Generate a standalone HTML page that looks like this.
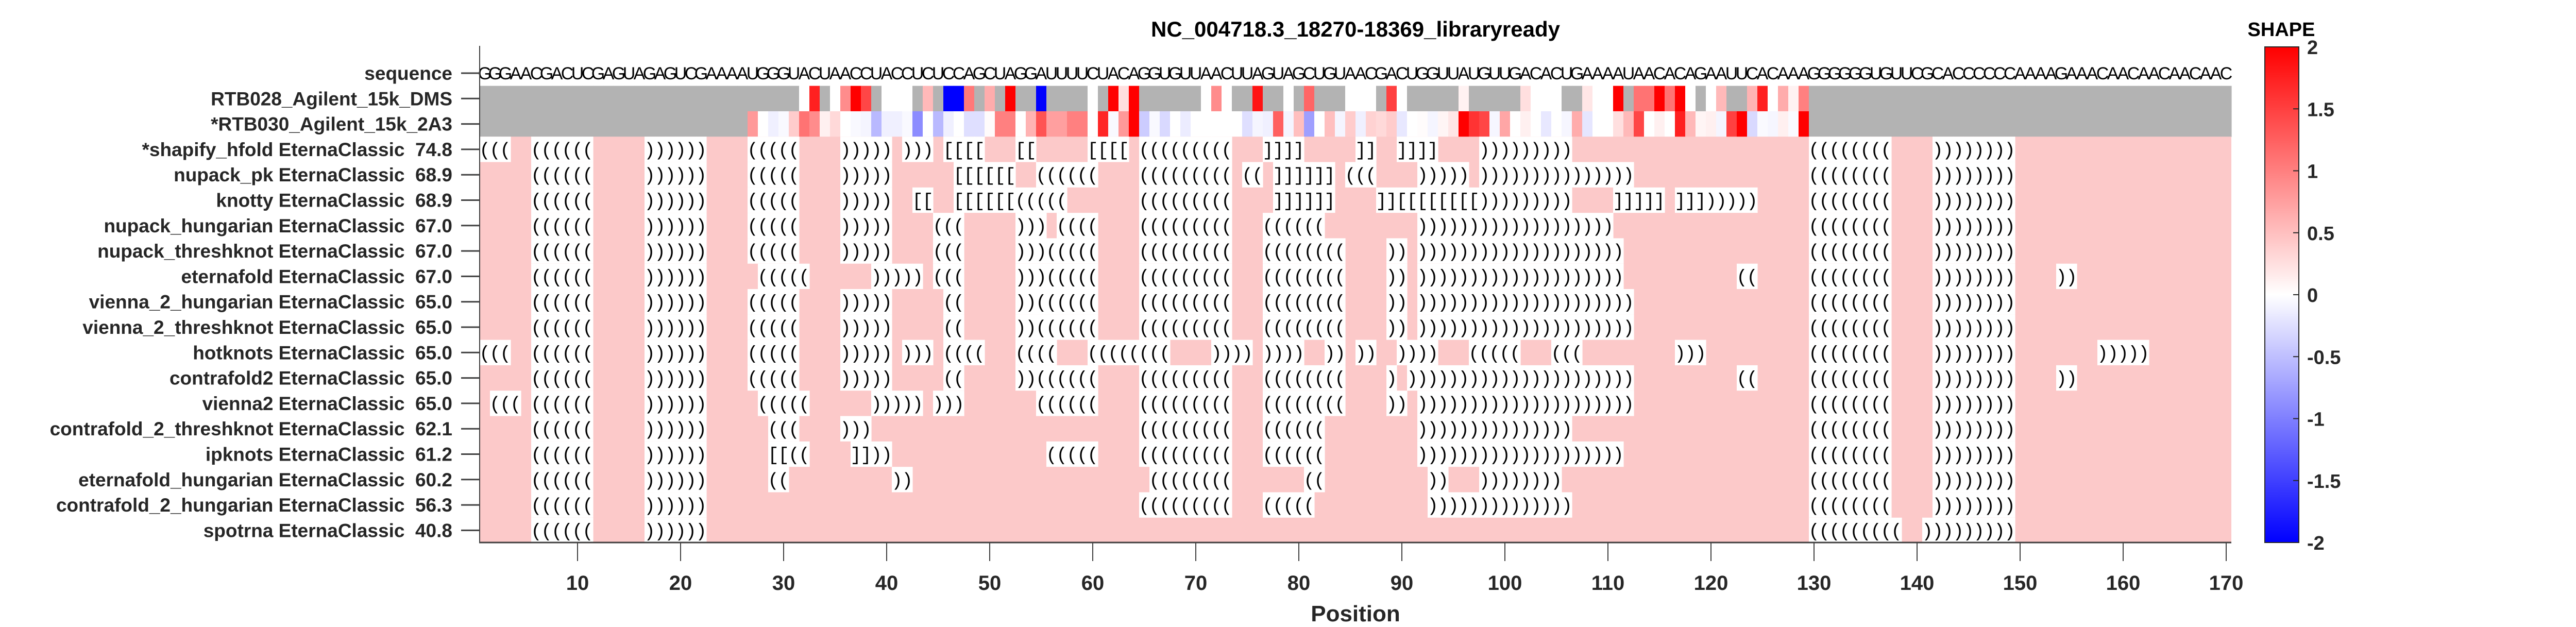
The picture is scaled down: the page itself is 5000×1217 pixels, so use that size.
<!DOCTYPE html>
<html><head><meta charset="utf-8"><style>
html,body{margin:0;padding:0;background:#fff;}
svg{display:block;font-family:"Liberation Sans",Arial,sans-serif;}
</style></head><body>
<svg id="chart" width="5000" height="1217" viewBox="0 0 5000 1217" xmlns="http://www.w3.org/2000/svg">
<defs>
<linearGradient id="cbgrad" x1="0" y1="1" x2="0" y2="0">
<stop offset="0" stop-color="#0000ff"/><stop offset="0.5" stop-color="#ffffff"/><stop offset="1" stop-color="#ff0000"/>
</linearGradient>
</defs>
<text x="2631" y="71" text-anchor="middle" font-size="42" font-weight="bold" fill="#000">NC_004718.3_18270-18369_libraryready</text>
<g id="cells"></g>
<g id="ylabels"></g>
<g id="xaxis"></g>
<text x="2631" y="1206" text-anchor="middle" font-size="44" font-weight="bold" fill="#262626">Position</text>
<g id="colorbar">
<text x="4428" y="70" text-anchor="middle" font-size="38" font-weight="bold" fill="#000">SHAPE</text>
<rect x="4396" y="91" width="66" height="962" fill="url(#cbgrad)" stroke="#262626" stroke-width="2"/>
</g>
</svg>
<script>
const N = null;
const sequence = "GGGAACGACUCGAGUAGAGUCGAAAAUGGGUACUAACCUACCU" + "CUCCAGCUAGGAUUUUCUACAGGUGUUAACUUAGUAGCUGUAACGACUGGUUAUGUUGACACUGAAAAUAACACAGAAUUCACAA" + "A" + "GGGGGGUGUUCGCACCCCCC" + "AAAAGAAACAACAACAACAAC";
const dmsValues = [N,N,N,N,N,N,N,N,N,N,N,N,N,N,N,N,N,N,N,N,N,N,N,N,N,N,N,N,N,N,N,
0,1.75,N,0,0.9,2,1.45,N,0,0,0,N,
0.55,N,-2,-2,1.05,N,0.65,N,2,N,N,-2,
N,N,N,N,0,N,2,0.25,2,N,N,N,
N,N,N,0,0.9,0,N,N,1.85,N,N,0,
N,1.2,N,N,N,0,0,0,N,1.5,0,N,
N,N,N,N,0.1,N,N,N,N,N,0.25,0,
0,0,N,N,0.2,0,0,2,N,1.1,1.1,2,
1.1,2,0,N,0,0.55,N,N,0.6,1.75,0,0.65,0.1,1.0,
N,N,N,N,N,N,N,N,N,N,N,N,N,N,N,N,N,N,N,N,N,N,N,N,N,N,N,N,N,N,N,N,N,N,N,N,N,N,N,N,N];
const a2a3Values = [N,N,N,N,N,N,N,N,N,N,N,N,N,N,N,N,N,N,N,N,N,N,N,N,N,N,
0.8,0,-0.12,-0.05,0.4,1.1,0.9,0.12,0.3,0,-0.05,-0.08,
-0.55,-0.12,-0.12,-0.05,-0.9,0,-0.55,-0.12,0,-0.25,-0.25,0.03,
1,1,0,0.6,1.35,0.75,0.75,1,1,0,1.7,-0.05,
0.8,2,-0.4,-0.05,-0.3,0,-0.15,0,0,0,0,0,
-0.25,-0.08,-0.12,1.25,-0.08,0.5,-0.75,0,0.5,-0.08,0.4,-0.12,
0.35,0.3,0.4,-0.18,0,0.02,-0.08,0.08,0.2,2,1.6,1.45,
-0.07,0.7,0,0.12,0,-0.18,0,-0.07,0.65,-0.2,0,0,
0.25,0.55,1.45,0,0.12,0,1.75,0.55,0.08,0.12,-0.08,1.5,
2,-0.3,-0.04,-0.07,0.12,-0.04,2,
N,N,N,N,N,N,N,N,N,N,N,N,N,N,N,N,N,N,N,N,N,N,N,N,N,N,N,N,N,N,N,N,N,N,N,N,N,N,N,N,N];
const rowLabels = ["sequence","RTB028_Agilent_15k_DMS","*RTB030_Agilent_15k_2A3",
"*shapify_hfold EternaClassic  74.8","nupack_pk EternaClassic  68.9","knotty EternaClassic  68.9",
"nupack_hungarian EternaClassic  67.0","nupack_threshknot EternaClassic  67.0","eternafold EternaClassic  67.0",
"vienna_2_hungarian EternaClassic  65.0","vienna_2_threshknot EternaClassic  65.0","hotknots EternaClassic  65.0",
"contrafold2 EternaClassic  65.0","vienna2 EternaClassic  65.0","contrafold_2_threshknot EternaClassic  62.1",
"ipknots EternaClassic  61.2","eternafold_hungarian EternaClassic  60.2","contrafold_2_hungarian EternaClassic  56.3",
"spotrna EternaClassic  40.8"];
const structSegments = [
[[1,'(',3],[6,'(',6],[17,')',6],[27,'(',5],[36,')',5],[42,')',3],[46,'[',4],[53,'[',2],[60,'[',4],[65,'(',9],[77,']',4],[86,']',2],[90,']',4],[98,')',9],[130,'(',8],[142,')',8]],
[[6,'(',6],[17,')',6],[27,'(',5],[36,')',5],[47,'[',6],[55,'(',6],[65,'(',9],[75,'(',2],[78,']',6],[85,'(',3],[92,')',5],[98,')',15],[130,'(',8],[142,')',8]],
[[6,'(',6],[17,')',6],[27,'(',5],[36,')',5],[43,'[',2],[47,'[',6],[53,'(',5],[65,'(',9],[78,']',6],[88,']',2],[90,'[',8],[98,')',9],[111,']',5],[117,']',3],[120,')',5],[130,'(',8],[142,')',8]],
[[6,'(',6],[17,')',6],[27,'(',5],[36,')',5],[45,'(',3],[53,')',3],[57,'(',4],[65,'(',9],[77,'(',6],[92,')',19],[130,'(',8],[142,')',8]],
[[6,'(',6],[17,')',6],[27,'(',5],[36,')',5],[45,'(',3],[53,')',3],[56,'(',5],[65,'(',9],[77,'(',8],[89,')',2],[92,')',20],[130,'(',8],[142,')',8]],
[[6,'(',6],[17,')',6],[28,'(',5],[39,')',5],[45,'(',3],[53,')',3],[56,'(',5],[65,'(',9],[77,'(',8],[89,')',2],[92,')',20],[123,'(',2],[130,'(',8],[142,')',8],[154,')',2]],
[[6,'(',6],[17,')',6],[27,'(',5],[36,')',5],[46,'(',2],[53,')',2],[55,'(',6],[65,'(',9],[77,'(',8],[89,')',2],[92,')',21],[130,'(',8],[142,')',8]],
[[6,'(',6],[17,')',6],[27,'(',5],[36,')',5],[46,'(',2],[53,')',2],[55,'(',6],[65,'(',9],[77,'(',8],[89,')',2],[92,')',21],[130,'(',8],[142,')',8]],
[[1,'(',3],[6,'(',6],[17,')',6],[27,'(',5],[36,')',5],[42,')',3],[46,'(',4],[53,'(',4],[60,'(',8],[72,')',4],[77,')',4],[83,')',2],[86,')',2],[90,')',4],[97,'(',5],[105,'(',3],[117,')',3],[130,'(',8],[142,')',8],[158,')',5]],
[[6,'(',6],[17,')',6],[27,'(',5],[36,')',5],[46,'(',2],[53,')',2],[55,'(',6],[65,'(',9],[77,'(',8],[89,')',1],[91,')',22],[123,'(',2],[130,'(',8],[142,')',8],[154,')',2]],
[[2,'(',3],[6,'(',6],[17,')',6],[28,'(',5],[39,')',5],[45,')',3],[55,'(',6],[65,'(',9],[77,'(',8],[89,')',2],[92,')',21],[130,'(',8],[142,')',8]],
[[6,'(',6],[17,')',6],[29,'(',3],[36,')',3],[65,'(',9],[77,'(',6],[92,')',15],[130,'(',8],[142,')',8]],
[[6,'(',6],[17,')',6],[29,'[',2],[31,'(',2],[37,']',2],[39,')',2],[56,'(',5],[65,'(',9],[77,'(',6],[92,')',20],[130,'(',8],[142,')',8]],
[[6,'(',6],[17,')',6],[29,'(',2],[41,')',2],[66,'(',8],[81,'(',2],[93,')',2],[98,')',8],[130,'(',8],[142,')',8]],
[[6,'(',6],[17,')',6],[65,'(',9],[77,'(',5],[93,')',14],[130,'(',8],[142,')',8]],
[[6,'(',6],[17,')',6],[130,'(',9],[141,')',9]]
];
const xTickValues = [10,20,30,40,50,60,70,80,90,100,110,120,130,140,150,160,170];
const cbTickValues = [2,1.5,1,0.5,0,-0.5,-1,-1.5,-2];

const NS = "http://www.w3.org/2000/svg";
const L = 931, R = 4331, NPOS = 170, CW = (R - L) / NPOS;
const Y0 = 142, RH = 49.3, AXB = 1053, AXT = 89;
const CB_T = 91, CB_B = 1053;
function xLeft(p){ return L + (p - 1) * CW; }
function xCenter(p){ return L + (p - 0.5) * CW; }
function yRow(i){ return Y0 + i * RH; }
function yCb(v){ return CB_T + (2 - v) / 4 * (CB_B - CB_T); }
function mk(tag, attrs, parent){ const e = document.createElementNS(NS, tag); for (const k in attrs) e.setAttribute(k, attrs[k]); parent.appendChild(e); return e; }
function shapeColor(v){
  if (v === null) return "#b3b3b3";
  const c = Math.max(-2, Math.min(2, v));
  if (c >= 0){ const g = Math.round(255 * (1 - c / 2)); return `rgb(255,${g},${g})`; }
  const r = Math.round(255 * (1 + c / 2)); return `rgb(${r},${r},255)`;
}
const cells = document.getElementById('cells');
for (let p = 1; p <= NPOS; p++){
  const t = mk('text', {x: xCenter(p), y: yRow(0) + 12, 'text-anchor': 'middle', 'font-size': 34, fill: '#000'}, cells);
  
  
  t.textContent = sequence[p - 1];
}
[dmsValues, a2a3Values].forEach((vals, k) => {
  const i = k + 1;
  for (let p = 1; p <= NPOS; p++){
    const r = mk('rect', {x: xLeft(p), y: yRow(i) - RH / 2, width: CW + 0.6, height: RH + 0.6, fill: shapeColor(vals[p - 1])}, cells);
    
    
  }
});
structSegments.forEach((segs, k) => {
  const i = k + 3;
  const bg = mk('rect', {x: L, y: yRow(i) - RH / 2, width: R - L, height: RH + 0.6, fill: '#fcc9c9'}, cells);
  
  
  segs.forEach(([s, ch, n]) => {
    for (let j = 0; j < n; j++){
      const p = s + j;
      const r = mk('rect', {x: xLeft(p), y: yRow(i) - RH / 2, width: CW + 0.6, height: RH + 0.6, fill: '#ffffff'}, cells);
      
      
      const t = mk('text', {x: xCenter(p), y: yRow(i) + 12, 'text-anchor': 'middle', 'font-size': 36, 'font-family': '"Liberation Mono", monospace', fill: '#000'}, cells);
      
      
      t.textContent = ch;
    }
  });
});
const yl = document.getElementById('ylabels');
rowLabels.forEach((lab, i) => {
  const t = mk('text', {x: 878, y: yRow(i) + 13, 'text-anchor': 'end', 'font-size': 37, 'font-weight': 'bold', fill: '#262626'}, yl);
  
  
  t.style.whiteSpace = 'pre';
  t.textContent = lab;
  const tk = mk('line', {x1: 895, x2: L, y1: yRow(i), y2: yRow(i), stroke: '#404040', 'stroke-width': 3}, yl);
  
  
});
const xa = document.getElementById('xaxis');
const ya = mk('line', {x1: L, x2: L, y1: AXT, y2: AXB, stroke: '#404040', 'stroke-width': 2}, xa);


const xl = mk('line', {x1: L - 1, x2: R, y1: AXB, y2: AXB, stroke: '#404040', 'stroke-width': 3}, xa);


xTickValues.forEach(v => {
  const tk = mk('line', {x1: xCenter(v), x2: xCenter(v), y1: AXB, y2: AXB + 36, stroke: '#404040', 'stroke-width': 2}, xa);
  
  
  const t = mk('text', {x: xCenter(v), y: 1145, 'text-anchor': 'middle', 'font-size': 40, 'font-weight': 'bold', fill: '#262626'}, xa);
  
  
  t.textContent = v;
});
const cb = document.getElementById('colorbar');
cbTickValues.forEach(v => {
  const y = yCb(v);
  const tk = mk('line', {x1: 4451, x2: 4462, y1: y, y2: y, stroke: '#262626', 'stroke-width': 2}, cb);
  
  
  const t = mk('text', {x: 4478, y: y + 14, 'text-anchor': 'start', 'font-size': 38, 'font-weight': 'bold', fill: '#262626'}, cb);
  
  
  t.textContent = String(v);
});
</script>
</body></html>
